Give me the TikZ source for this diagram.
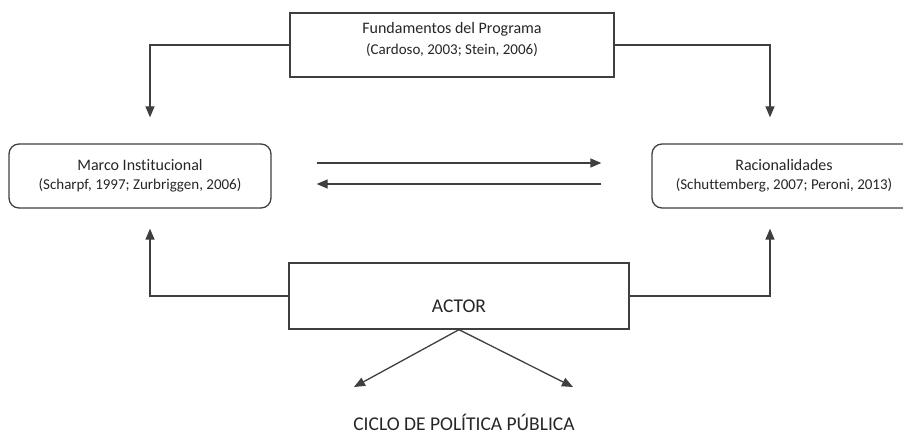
\documentclass[tikz,border=0pt]{standalone}
\usepackage{fontspec}
\setmainfont[Ligatures=NoCommon]{Carlito}
\usepackage{xcolor}
\usetikzlibrary{arrows.meta}
\definecolor{linegray}{HTML}{3F3F3F}
\newcommand{\reffont}{\fontsize{15}{18}\selectfont}
\tikzset{
  sqbox/.style={rectangle, draw=linegray, line width=1.3pt, fill=white,
    inner sep=0pt},
  rbox/.style={rectangle, rounded corners=10pt, draw=linegray, line width=1.3pt,
    fill=white, align=center, minimum width=262pt, minimum height=64pt,
    font=\fontsize{16}{19}\selectfont, text=black!85, inner sep=3pt},
  lbl/.style={align=center, font=\fontsize{16}{19}\selectfont, text=black!85,
    inner sep=0pt},
  big/.style={font=\fontsize{19.5}{23}\selectfont, text=black!85, inner sep=0pt},
  tr/.style={-{Triangle[length=11pt,width=9pt]}, draw=linegray, line width=1.3pt},
}
\begin{document}
\begin{tikzpicture}[x=1pt,y=-1pt]
  \useasboundingbox (0,0) rectangle (903,436);
  \node[sqbox, minimum width=324pt, minimum height=64pt] (fund) at (452,45) {};
  \node[lbl] (fundtxt) at (452,39) {Fundamentos del Programa\\[2pt]{\reffont (Cardoso, 2003; Stein, 2006)}};
  \node[rbox] (marco) at (140,176) {Marco Institucional\\{\reffont (Scharpf, 1997; Zurbriggen, 2006)}};
  \node[rbox, minimum width=264pt] (racio) at (784,176) {Racionalidades\\{\reffont (Schuttemberg, 2007; Peroni, 2013)}};
  \node[sqbox, minimum width=340pt, minimum height=66pt] (actor) at (459,296) {};
  \node[big] (actortxt) at (459,306) {ACTOR};
  \coordinate (cl) at (354,387);
  \coordinate (cr) at (573,387);
  \node[big] (ciclo) at (464,422) {CICLO DE POLÍTICA PÚBLICA};
  \draw[tr, shorten >=26pt] (fund.west) -| ([xshift=10pt]marco.north);
  \draw[tr, shorten >=26pt] (fund.east) -| ([xshift=-14pt]racio.north);
  \draw[tr, shorten <=45pt, shorten >=50pt] ([yshift=13pt]marco.east) -- ([yshift=13pt]racio.west);
  \draw[tr, shorten <=50pt, shorten >=45pt] ([yshift=-8pt]racio.west) -- ([yshift=-8pt]marco.east);
  \draw[tr, shorten >=20pt] (actor.west) -| ([xshift=10pt]marco.south);
  \draw[tr, shorten >=20pt] (actor.east) -| ([xshift=-14pt]racio.south);
  \draw[tr] (actor.south) -- (cl);
  \draw[tr] (actor.south) -- (cr);
\end{tikzpicture}
\end{document}
